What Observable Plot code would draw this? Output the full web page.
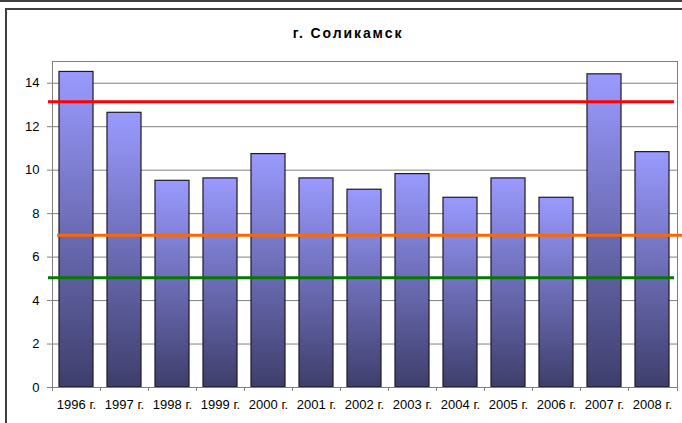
<!DOCTYPE html>
<html>
<head>
<meta charset="utf-8">
<script src="https://cdn.jsdelivr.net/npm/d3@7"></script>
<script src="https://cdn.jsdelivr.net/npm/@observablehq/plot@0.6"></script>
<style>
  html, body { margin: 0; padding: 0; background: #fff; }
  #wrap { position: relative; width: 682px; height: 423px; overflow: hidden; font-family: "Liberation Sans", Arial, sans-serif; }
  #topline { position: absolute; left: 0; top: 0; width: 682px; height: 2px; background: #404040; }
  #box { position: absolute; left: 5px; top: 8px; width: 700px; height: 430px; border-left: 2px solid #404040; border-top: 2px solid #404040; box-sizing: border-box; }
  #title { position: absolute; left: 348px; top: 25px; transform: translateX(-50%); font-weight: bold; font-size: 14px; letter-spacing: 1.9px; white-space: nowrap; color: #000; }
  #chart { position: absolute; left: 0; top: 0; }
</style>
</head>
<body>
<div id="wrap">
  <div id="topline"></div>
  <div id="box"></div>
  <div id="title">г. Соликамск</div>
  <div id="chart"></div>
</div>
<script>
const years = ["1996 г.", "1997 г.", "1998 г.", "1999 г.", "2000 г.", "2001 г.", "2002 г.", "2003 г.", "2004 г.", "2005 г.", "2006 г.", "2007 г.", "2008 г."];
const values = [14.52, 12.64, 9.51, 9.62, 10.74, 9.62, 9.10, 9.82, 8.73, 9.62, 8.73, 14.41, 10.83];
const yTicks = [0, 2, 4, 6, 8, 10, 12, 14];
const refLines = [
  {name: "red", value: 13.15, color: "#ff0000"},
  {name: "orange", value: 7.01, color: "#ff6600"},
  {name: "green", value: 5.05, color: "#067806"}
];

const data = years.map((y, i) => ({year: y, value: values[i]}));

const W = 682, H = 423;
const plot = Plot.plot({
  width: W,
  height: H,
  marginLeft: 52,
  marginRight: 5,
  marginTop: 61,
  marginBottom: 36,
  style: {fontFamily: "'Liberation Sans', Arial, sans-serif", fontSize: "13px", color: "#000", background: "transparent", overflow: "visible"},
  x: {domain: years, paddingInner: 0.286, paddingOuter: 0.143, label: null},
  y: {domain: [0, 15], label: null},
  marks: [
    Plot.gridY(yTicks, {stroke: "#808080", strokeOpacity: 1, strokeWidth: 1}),
    Plot.frame({stroke: "#808080", strokeWidth: 1}),
    Plot.axisY(yTicks, {tickSize: 5, tickPadding: 8, stroke: "#808080", fill: "#000", fontSize: 13}),
    Plot.axisX({tickSize: 0, tickPadding: 12, fill: "#000", fontSize: 13}),
    // category boundary ticks along the x axis
    (index, scales, values, dim) => {
      const g = d3.create("svg:g");
      const n = years.length;
      const x0 = dim.marginLeft, x1 = dim.width - dim.marginRight;
      const yb = dim.height - dim.marginBottom;
      for (let i = 0; i <= n; i++) {
        const xx = x0 + (x1 - x0) * i / n;
        g.append("line").attr("x1", xx).attr("x2", xx).attr("y1", yb).attr("y2", yb + 4)
          .attr("stroke", "#808080").attr("shape-rendering", "crispEdges");
      }
      return g.node();
    },
    Plot.barY(data, {x: "year", y: "value", fill: "url(#barGrad)", stroke: "#1a1a2a", strokeWidth: 1.2}),
    Plot.ruleY([refLines[0]], {y: "value", stroke: d => d.color, strokeWidth: 3, insetLeft: -4, insetRight: 3}),
    Plot.ruleY([refLines[1]], {y: "value", stroke: d => d.color, strokeWidth: 3, insetLeft: 5, insetRight: -8}),
    Plot.ruleY([refLines[2]], {y: "value", stroke: d => d.color, strokeWidth: 3, insetLeft: -4, insetRight: 3}),
    Plot.ruleY([0], {stroke: "#808080", strokeWidth: 1})
  ]
});

// gradient definition for bars
const defs = d3.select(plot).insert("defs", ":first-child");
const grad = defs.append("linearGradient").attr("id", "barGrad").attr("x1", 0).attr("y1", 0).attr("x2", 0).attr("y2", 1);
grad.append("stop").attr("offset", "0%").attr("stop-color", "#9a9aff");
grad.append("stop").attr("offset", "100%").attr("stop-color", "#3e3e6c");

document.getElementById("chart").appendChild(plot);
</script>
</body>
</html>
